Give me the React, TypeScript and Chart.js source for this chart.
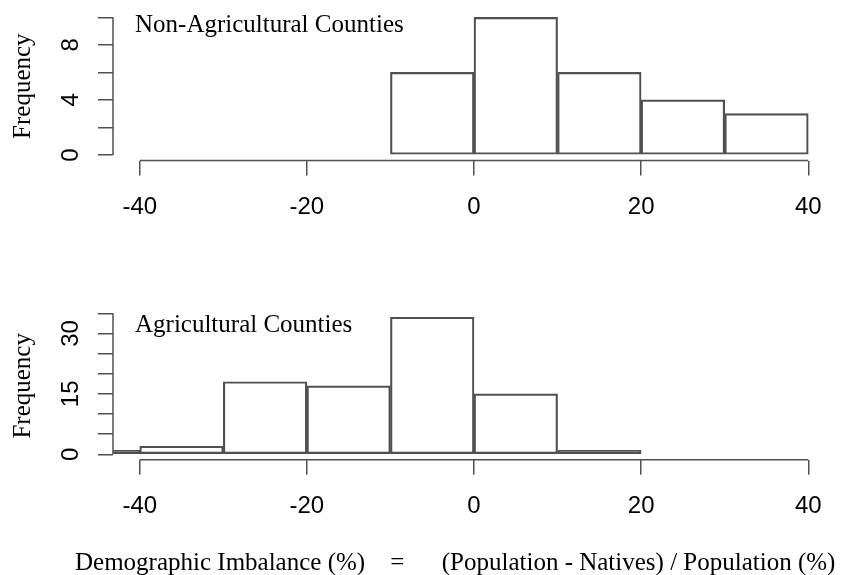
import React, { useEffect, useRef } from 'react';
import { Chart, registerables } from 'chart.js';

Chart.register(...registerables);

// ---------- data ----------
const binWidth = 10;
const xLimits = [-40, 40];
const xTicks = [-40, -20, 0, 20, 40];

const nonAgBinStarts = [-10, 0, 10, 20, 30];
const nonAgCounts = [6, 10, 6, 4, 3];
const nonAgYTicks = [0, 2, 4, 6, 8, 10];
const nonAgYLabels = [0, 4, 8];

const agBinStarts = [-50, -40, -30, -20, -10, 0, 10];
const agCounts = [1, 2, 18, 17, 34, 15, 1];
const agYTicks = [0, 5, 10, 15, 20, 25, 30, 35];
const agYLabels = [0, 15, 30];

const nonAgTitle = 'Non-Agricultural Counties';
const agTitle = 'Agricultural Counties';
const yTitle = 'Frequency';
const xTitle = 'Demographic Imbalance (%)    =      (Population - Natives) / Population (%)';

// ---------- styles ----------
const SANS = '"Liberation Sans", Arial, sans-serif';
const SERIF = '"Liberation Serif", "Times New Roman", serif';
const AXIS_COLOR = '#505050';
const LINE_W = 1.5;

const extend = (lo: number, hi: number) => {
  const d = (hi - lo) * 0.04;
  return [lo - d, hi + d];
};

type PanelProps = {
  binStarts: number[];
  counts: number[];
  yTicks: number[];
  yLabels: number[];
  title: string;
  height: number;
  chartTop: number;
  chartBottom: number;
  bottomTitle?: string;
};

function Panel(p: PanelProps) {
  const ref = useRef<HTMLCanvasElement | null>(null);

  useEffect(() => {
    if (!ref.current) return;
    const [xmin, xmax] = extend(xLimits[0], xLimits[1]);
    const [ymin, ymax] = extend(0, Math.max(...p.counts));
    const data = p.binStarts.map((s, i) => ({ x: s + binWidth / 2, y: p.counts[i] }));

    const rStyle = {
      id: 'rstyle',
      afterDraw(chart: any) {
        const { ctx, chartArea } = chart;
        const x = chart.scales.x;
        const y = chart.scales.y;
        ctx.save();
        ctx.strokeStyle = AXIS_COLOR;
        ctx.lineWidth = LINE_W;
        // x axis line (first to last tick)
        ctx.beginPath();
        ctx.moveTo(x.getPixelForValue(xTicks[0]), chartArea.bottom);
        ctx.lineTo(x.getPixelForValue(xTicks[xTicks.length - 1]), chartArea.bottom);
        ctx.stroke();
        // y axis line
        ctx.beginPath();
        ctx.moveTo(chartArea.left, y.getPixelForValue(p.yTicks[0]));
        ctx.lineTo(chartArea.left, y.getPixelForValue(p.yTicks[p.yTicks.length - 1]));
        ctx.stroke();
        // rotated y tick labels
        ctx.fillStyle = '#000';
        ctx.font = `24px ${SANS}`;
        ctx.textAlign = 'center';
        ctx.textBaseline = 'alphabetic';
        for (const v of p.yLabels) {
          const py = y.getPixelForValue(v);
          ctx.save();
          ctx.translate(chartArea.left - 34.7, py);
          ctx.rotate(-Math.PI / 2);
          ctx.fillText(String(v), 0, 0);
          ctx.restore();
        }
        // panel title
        ctx.font = `25px ${SERIF}`;
        ctx.textAlign = 'left';
        ctx.fillText(p.title, chartArea.left + 22, chartArea.top + 20.5);
        // overall x title
        if (p.bottomTitle) {
          ctx.fillText(p.bottomTitle, 75, chart.height - 5);
        }
        ctx.restore();
      },
    };

    const chart = new Chart(ref.current, {
      type: 'bar',
      data: {
        datasets: [
          {
            data,
            backgroundColor: 'rgba(255,255,255,0)',
            borderColor: AXIS_COLOR,
            borderWidth: LINE_W,
            borderSkipped: false,
            barPercentage: 1,
            categoryPercentage: 1,
            clip: 0,
          } as any,
        ],
      },
      options: {
        animation: false,
        responsive: false,
        maintainAspectRatio: false,
        devicePixelRatio: 1,
        layout: { padding: { top: p.chartTop, right: 8, left: 0, bottom: 0 } },
        plugins: { legend: { display: false }, title: { display: false }, tooltip: { enabled: false } },
        scales: {
          x: {
            type: 'linear',
            min: xmin,
            max: xmax,
            bounds: 'data',
            offset: false,
            afterBuildTicks: (s: any) => {
              s.ticks = xTicks.map((v) => ({ value: v }));
            },
            afterFit: (s: any) => {
              s.height = p.height - p.chartBottom;
            },
            grid: {
              display: true,
              offset: false,
              drawOnChartArea: false,
              drawTicks: true,
              tickLength: 15,
              color: AXIS_COLOR,
              lineWidth: LINE_W,
            },
            border: { display: false },
            ticks: {
              padding: 17,
              autoSkip: false,
              maxRotation: 0,
              minRotation: 0,
              color: '#000',
              font: { family: SANS, size: 24 },
              callback: (v: any) => String(v),
            },
          },
          y: {
            type: 'linear',
            min: ymin,
            max: ymax,
            bounds: 'data',
            afterBuildTicks: (s: any) => {
              s.ticks = p.yTicks.map((v) => ({ value: v }));
            },
            afterFit: (s: any) => {
              s.width = 113;
            },
            grid: { display: true, drawOnChartArea: false, drawTicks: true, tickLength: 15, color: AXIS_COLOR, lineWidth: LINE_W },
            border: { display: false },
            ticks: { display: false },
            title: {
              display: true,
              text: yTitle,
              color: '#000',
              font: { family: SERIF, size: 25 },
              padding: { top: 8, bottom: 0 },
            },
          },
        },
      } as any,
      plugins: [rStyle],
    });
    return () => chart.destroy();
  }, []);

  return <canvas ref={ref} width={843} height={p.height} style={{ display: 'block', width: 843, height: p.height }} />;
}

export default function App() {
  return (
    <div style={{ position: 'fixed', left: 0, top: 0, width: 843, height: 575, background: '#fff' }}>
      <Panel
        binStarts={nonAgBinStarts}
        counts={nonAgCounts}
        yTicks={nonAgYTicks}
        yLabels={nonAgYLabels}
        title={nonAgTitle}
        height={290}
        chartTop={11.8}
        chartBottom={160.5}
      />
      <Panel
        binStarts={agBinStarts}
        counts={agCounts}
        yTicks={agYTicks}
        yLabels={agYLabels}
        title={agTitle}
        height={285}
        chartTop={21.8}
        chartBottom={169.8}
        bottomTitle={xTitle}
      />
    </div>
  );
}
